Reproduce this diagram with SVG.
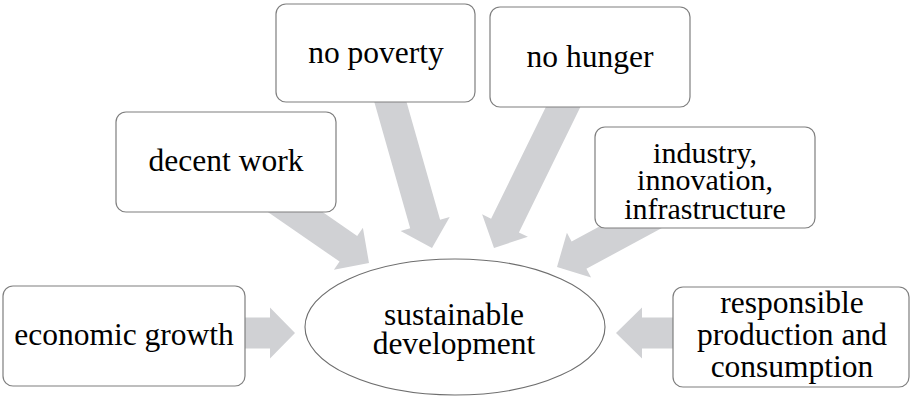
<svg xmlns="http://www.w3.org/2000/svg" width="911" height="397" viewBox="0 0 911 397">
  <style>
    .box { fill: #ffffff; stroke: #7f7f7f; stroke-width: 1.2; }
    .hub { fill: #ffffff; stroke: #6e6e6e; stroke-width: 1.1; }
    .arrow { fill: #d0d1d4; stroke: none; }
    text { font-family: Liberation Serif, Tinos, DejaVu Serif, serif; }
    .label { font-size: 31.5px; fill: #000000; text-anchor: middle; }
    .small { font-size: 30px; }
  </style>
  <rect x="0" y="0" width="911" height="397" fill="#ffffff"/>

  <!-- block arrows pointing into the central ellipse (drawn first, boxes cover their tails) -->
  <g id="connectors">
    <polygon class="arrow" points="240,317.5 270,317.5 270,307.5 295,333 270,358.5 270,348.5 240,348.5"/>
    <polygon class="arrow" points="257.3,204.7 339.6,261.6 333.9,269.8 369,263 362.9,227.8 357.2,236 274.9,179.1"/>
    <polygon class="arrow" points="371.9,93.5 410.2,228.2 400.6,230.9 432,248 449.7,217 440.1,219.7 401.7,85"/>
    <polygon class="arrow" points="557.1,84 491.1,218.7 482.1,214.3 494,248 527.9,236.8 518.9,232.4 584.9,97.7"/>
    <polygon class="arrow" points="659.6,194 571.6,241.5 566.9,232.7 557,267 591.1,277.6 586.4,268.8 674.4,221.2"/>
    <polygon class="arrow" points="680,317.5 642,317.5 642,307.5 616,333 642,358.5 642,348.5 680,348.5"/>
  </g>

  <g id="economic-growth">
    <rect class="box" x="3" y="286" width="242" height="100" rx="10"/>
    <text class="label" x="124" y="345">economic growth</text>
  </g>

  <g id="decent-work">
    <rect class="box" x="116" y="112" width="220" height="100" rx="10"/>
    <text class="label" x="226" y="171">decent work</text>
  </g>

  <g id="no-poverty">
    <rect class="box" x="276" y="4" width="199" height="98" rx="10"/>
    <text class="label" x="376" y="63">no poverty</text>
  </g>

  <g id="no-hunger">
    <rect class="box" x="490" y="7" width="200" height="100" rx="10"/>
    <text class="label" x="590" y="67">no hunger</text>
  </g>

  <g id="industry">
    <rect class="box" x="595" y="127" width="220" height="101" rx="10"/>
    <text class="label small" x="705" y="163">industry,</text>
    <text class="label small" x="705" y="190">innovation,</text>
    <text class="label small" x="705" y="219">infrastructure</text>
  </g>

  <g id="responsible">
    <rect class="box" x="673" y="287" width="236" height="100" rx="10"/>
    <text class="label" x="792" y="313">responsible</text>
    <text class="label" x="792" y="345">production and</text>
    <text class="label" x="792" y="377">consumption</text>
  </g>

  <g id="sustainable-development">
    <ellipse class="hub" cx="455" cy="327" rx="150" ry="68"/>
    <text class="label" x="454" y="325">sustainable</text>
    <text class="label" x="454" y="354">development</text>
  </g>
</svg>
